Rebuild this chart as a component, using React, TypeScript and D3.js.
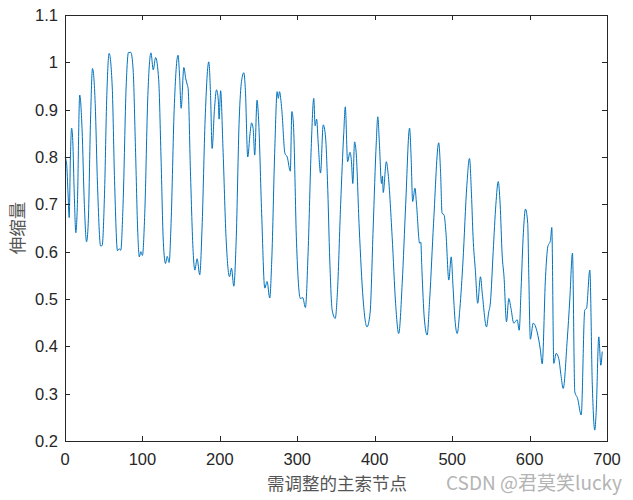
import React, { useEffect, useRef } from "react";
import * as d3 from "d3";

const xTicks = [0, 100, 200, 300, 400, 500, 600, 700];
const yTicks = [0.2, 0.3, 0.4, 0.5, 0.6, 0.7, 0.8, 0.9, 1, 1.1];

const nodeX = [
  0, 2, 4, 5.4, 7, 8.5, 10, 12, 14, 16, 19, 22, 25, 27.8, 30, 33, 35.5, 39, 42, 46, 48, 51, 54, 57, 61, 64, 67.8, 70, 72, 75,
  79, 82, 85, 88, 91, 94, 96, 98, 100, 103, 107, 111, 114, 117, 121, 124, 127, 129.8, 132, 134.5, 137, 141, 146, 148, 150,
  153.5, 156, 158, 159, 162, 165.5, 167.7, 170.6, 174, 177, 181, 185.7, 188, 190, 193, 195.7, 198, 199, 201, 204, 208,
  212.5, 215, 218, 221, 225, 228, 231, 233, 236, 239, 241, 243, 245, 248, 250, 254, 258, 261, 264.4, 267, 271, 274,
  275.5, 277, 280, 284, 287, 291, 293, 295, 299, 304, 307, 310.5, 314, 318, 321.3, 323, 325, 327, 330, 333.5, 336.5,
  339, 342, 345, 349, 352, 356, 360, 362, 365, 368, 370, 371.7, 374, 376, 380, 385, 390, 394, 398, 402, 404, 406, 408.8,
  410, 411, 415, 417, 422.5, 427, 431, 435.5, 440, 445, 447, 449, 452, 454, 458, 459.5, 461, 464, 467.7, 471, 476,
  482.7, 485, 487, 489.5, 492, 495.7, 498.8, 501, 504, 506.5, 510, 514, 519, 522.4, 525, 527, 530, 533, 536.6, 539,
  544.4, 547, 549.5, 553, 556.5, 559.5, 562, 564.6, 567, 570.2, 573.2, 576, 579.6, 584, 586.6, 589, 592, 594.7, 597.6,
  599, 601, 604.7, 609.8, 614, 616.3, 620.6, 623.5, 627, 628.7, 631.3, 634.3, 637.7, 640.8, 643.4, 648.6, 652, 655.4,
  658.4, 662, 666.7, 671.3, 673.5, 677.8, 681, 684.2, 686, 689.4, 692, 693.8,
];

const stretch = [
  0.8, 0.787, 0.72, 0.672, 0.8, 0.861, 0.835, 0.72, 0.64, 0.7, 0.931, 0.86, 0.7, 0.621, 0.66, 0.88, 0.987, 0.913, 0.74,
  0.612, 0.613, 0.72, 0.93, 1.019, 0.948, 0.75, 0.602, 0.606, 0.603, 0.7, 0.95, 1.021, 1.021, 0.984, 0.82, 0.64, 0.589,
  0.6, 0.592, 0.68, 0.93, 1.02, 0.984, 1.01, 0.963, 0.8, 0.62, 0.575, 0.59, 0.577, 0.66, 0.9, 1.015, 0.97, 0.903, 0.989,
  0.965, 0.952, 0.945, 0.77, 0.6, 0.561, 0.585, 0.551, 0.65, 0.88, 1.001, 0.93, 0.818, 0.9, 0.942, 0.92, 0.88, 0.94,
  0.82, 0.63, 0.547, 0.565, 0.527, 0.62, 0.88, 0.96, 0.978, 0.94, 0.8, 0.85, 0.872, 0.86, 0.804, 0.92, 0.88, 0.68,
  0.523, 0.537, 0.502, 0.58, 0.82, 0.938, 0.924, 0.938, 0.9, 0.808, 0.8, 0.77, 0.896, 0.87, 0.62, 0.501, 0.503, 0.482,
  0.6, 0.82, 0.924, 0.866, 0.88, 0.83, 0.766, 0.868, 0.842, 0.75, 0.58, 0.477, 0.459, 0.52, 0.7, 0.85, 0.906, 0.79,
  0.81, 0.79, 0.744, 0.832, 0.81, 0.65, 0.5, 0.441, 0.47, 0.65, 0.83, 0.885, 0.83, 0.744, 0.76, 0.725, 0.79, 0.77,
  0.632, 0.49, 0.427, 0.533, 0.7, 0.861, 0.8, 0.706, 0.734, 0.7, 0.618, 0.62, 0.56, 0.46, 0.424, 0.5, 0.66, 0.83, 0.77,
  0.681, 0.678, 0.64, 0.54, 0.589, 0.53, 0.45, 0.427, 0.48, 0.58, 0.74, 0.797, 0.72, 0.632, 0.56, 0.491, 0.547, 0.51,
  0.441, 0.47, 0.494, 0.6, 0.7, 0.748, 0.7, 0.593, 0.547, 0.452, 0.501, 0.48, 0.449, 0.456, 0.434, 0.52, 0.64, 0.69,
  0.66, 0.55, 0.415, 0.449, 0.43, 0.392, 0.363, 0.547, 0.61, 0.624, 0.651, 0.364, 0.385, 0.374, 0.336, 0.311, 0.413,
  0.5, 0.597, 0.304, 0.29, 0.255, 0.477, 0.48, 0.561, 0.32, 0.223, 0.26, 0.42, 0.36, 0.389,
];

const W = 633;
const H = 500;
const M = { left: 65, right: 607, top: 15, bottom: 441 };

export default function App() {
  const ref = useRef<SVGSVGElement>(null);

  useEffect(() => {
    const svg = d3.select(ref.current);
    svg.selectAll("*").remove();

    const x = d3.scaleLinear().domain([0, 700]).range([M.left, M.right]);
    const y = d3.scaleLinear().domain([0.2, 1.1]).range([M.bottom, M.top]);
    const axisColor = "#262626";
    const font = "'Liberation Sans', Arial, sans-serif";
    const tick = 5;

    svg.append("rect").attr("width", W).attr("height", H).attr("fill", "#fff");

    const data = nodeX.map((v, i) => [v, stretch[i]] as [number, number]);
    const line = d3
      .line<[number, number]>()
      .x((d) => x(d[0]))
      .y((d) => y(d[1]))
      .curve(d3.curveMonotoneX);

    svg
      .append("path")
      .attr("d", line(data))
      .attr("fill", "none")
      .attr("stroke", "#0072BD")
      .attr("stroke-width", 1)
      .attr("stroke-linejoin", "round");

    const g = svg.append("g").attr("stroke", axisColor).attr("stroke-width", 1).attr("shape-rendering", "crispEdges");
    g.append("rect")
      .attr("x", M.left)
      .attr("y", M.top)
      .attr("width", M.right - M.left)
      .attr("height", M.bottom - M.top)
      .attr("fill", "none");

    xTicks.forEach((t) => {
      const px = Math.round(x(t)) + 0.5;
      g.append("line").attr("x1", px).attr("x2", px).attr("y1", M.bottom).attr("y2", M.bottom - tick);
      g.append("line").attr("x1", px).attr("x2", px).attr("y1", M.top).attr("y2", M.top + tick);
      svg
        .append("text")
        .attr("x", x(t))
        .attr("y", M.bottom + 24)
        .attr("text-anchor", "middle")
        .attr("font-family", font)
        .attr("font-size", 16.5)
        .attr("fill", axisColor)
        .text(String(t));
    });

    yTicks.forEach((t) => {
      const py = Math.round(y(t)) + 0.5;
      g.append("line").attr("x1", M.left).attr("x2", M.left + tick).attr("y1", py).attr("y2", py);
      g.append("line").attr("x1", M.right).attr("x2", M.right - tick).attr("y1", py).attr("y2", py);
      svg
        .append("text")
        .attr("x", M.left - 7)
        .attr("y", y(t) + 6)
        .attr("text-anchor", "end")
        .attr("font-family", font)
        .attr("font-size", 16.5)
        .attr("fill", axisColor)
        .text(d3.format("~g")(t));
    });

    const cjk = "'Noto Sans CJK SC', 'Noto Sans', sans-serif";
    svg
      .append("text")
      .attr("x", 337)
      .attr("y", 490)
      .attr("text-anchor", "middle")
      .attr("font-family", cjk)
      .attr("font-size", 17.5)
      .attr("fill", "#555555")
      .text("需调整的主索节点");

    svg
      .append("text")
      .attr("transform", `translate(24, ${(M.top + M.bottom) / 2}) rotate(-90)`)
      .attr("text-anchor", "middle")
      .attr("font-family", cjk)
      .attr("font-size", 17.5)
      .attr("fill", "#555555")
      .text("伸缩量");

    svg
      .append("text")
      .attr("x", 622)
      .attr("y", 490)
      .attr("text-anchor", "end")
      .attr("font-family", cjk)
      .attr("font-size", 19)
      .attr("fill", "#b4b4b4")
      .text("CSDN @君莫笑lucky");
  }, []);

  return (
    <svg
      ref={ref}
      width={W}
      height={H}
      style={{ position: "absolute", left: 0, top: 0, display: "block" }}
    />
  );
}
